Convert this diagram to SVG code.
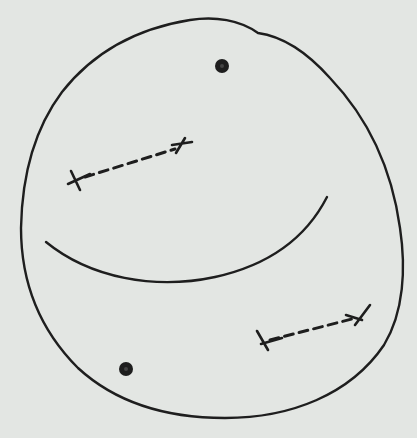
<svg xmlns="http://www.w3.org/2000/svg" width="417" height="438" viewBox="0 0 417 438">
<style>
.s{fill:none;stroke:#1e1e1e;stroke-width:2.4;stroke-linecap:round;stroke-linejoin:round}
.d{fill:none;stroke:#1e1e1e;stroke-width:3;stroke-dasharray:9 6;stroke-linecap:round}
.x{fill:none;stroke:#1e1e1e;stroke-width:2.6;stroke-linecap:round}
.dot{fill:#1e1e1e}
</style>
<rect width="417" height="438" fill="#e3e6e3"/>
<path class="s" d="M258,33 C240,20 215,16 190,20 C140,28 95,50 62,92 C35,128 22,175 21,228 C21,285 40,330 78,368 C115,402 165,418 225,418 C290,418 350,395 384,345 C404,312 406,268 400,228 C392,170 370,120 330,78 C305,50 280,36 258,33"/>
<circle class="dot" cx="222" cy="66" r="7"/>
<circle cx="222" cy="66" r="2" fill="#444"/>
<circle class="dot" cx="126" cy="369" r="7"/>
<circle cx="126" cy="369" r="2" fill="#444"/>
<path class="d" d="M85,177 L175,149"/>
<path class="x" d="M71,171 L80,190 M68,184 L90,174 M185,138 L176,153 M172,145 L192,142"/>
<path class="d" d="M270,340 L352,319"/>
<path class="x" d="M257,331 L268,350 M261,344 L282,338 M370,305 L355,325 M346,315 L362,320"/>
<path class="s" d="M46,242 C90,278 155,290 215,277 C265,266 305,240 327,197"/>
</svg>
